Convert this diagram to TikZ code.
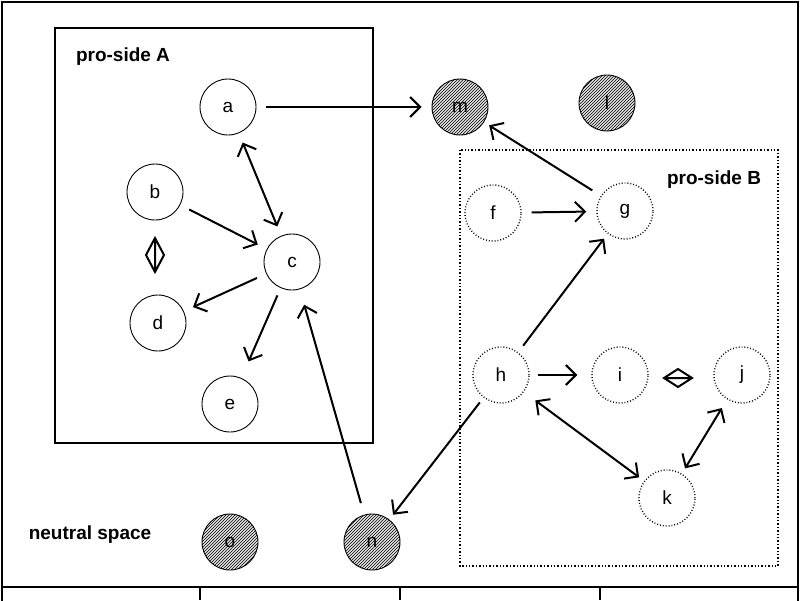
\documentclass[tikz,border=0pt]{standalone}
\usepackage{fontspec}
\setmainfont{Liberation Sans}
\usetikzlibrary{arrows.meta,patterns}
\begin{document}
\begin{tikzpicture}[x=1pt,y=-1pt,
  nd/.style={circle,draw,line width=0.9pt,minimum size=56pt,inner sep=0pt,font=\fontsize{19}{19}\selectfont},
  ndb/.style={nd,dotted,line width=1.4pt},
  hat/.style={nd,fill=gray!20,postaction={pattern=north east lines}},
  arr/.style={line width=2pt,-{Straight Barb[length=10pt,width=20pt,line width=2pt]},shorten >=10pt,shorten <=10pt},
  darr/.style={arr,{Straight Barb[length=10pt,width=20pt,line width=2pt]}-{Straight Barb[length=10pt,width=20pt,line width=2pt]}},
  lab/.style={font=\bfseries\fontsize{19}{19}\selectfont},
  sym/.style={line width=2pt}]
\useasboundingbox (0,0) rectangle (800,600);
\draw[line width=1.6pt] (2,2) rectangle (798,640);
\draw[line width=1.6pt] (2,587) -- (798,587);
\foreach \x in {200,400,600} \draw[line width=1.6pt] (\x,587) -- (\x,600);
\draw[line width=1.2pt] (55,28) rectangle (373,443);
\draw[dotted,line width=1.4pt] (460,150) rectangle (778,566);
\node[lab] (tA) at (123,57) {pro-side A};
\node[lab] (tB) at (714,180) {pro-side B};
\node[lab] (tN) at (90,535) {neutral space};
\node[nd] (a) at (228,107) {a};
\node[nd] (b) at (155,192) {b};
\node[nd] (c) at (292,262) {c};
\node[nd] (d) at (158,323) {d};
\node[nd] (e) at (230,404) {e};
\node[hat] (m) at (460,107) {m};
\node[hat] (l) at (607,103) {l};
\node[hat] (o) at (230,542) {o};
\node[hat] (n) at (372,542) {n};
\node[ndb] (f) at (493,213) {f};
\node[ndb] (g) at (625,211) {g};
\node[ndb] (h) at (501,375) {h};
\node[ndb] (i) at (620,375) {i};
\node[ndb] (j) at (742,375) {j};
\node[ndb] (k) at (667,498) {k};
\draw[arr] (a) -- (m);
\draw[darr] (a) -- (c);
\draw[arr] (b) -- (c);
\draw[arr] (c) -- (d);
\draw[arr,shorten <=8pt,shorten >=18pt] (c) -- (e);
\draw[arr] (f) -- (g);
\draw[arr,shorten >=6pt] (g) -- (m);
\draw[arr,shorten <=8pt,shorten >=6pt] (h) -- (g);
\draw[arr,shorten <=12pt,shorten >=16pt] (n) -- (c);
\draw[arr,shorten <=6pt,shorten >=6pt] (h) -- (n);
\draw[arr,shorten <=8pt,shorten >=14pt] (h) -- (i);
\draw[darr,shorten <=14pt,shorten >=6pt] (h) -- (k);
\draw[darr,shorten <=10pt,shorten >=6pt] (j) -- (k);
\draw[sym] (155,238) -- (146,255) -- (155,272) -- (164,255) -- cycle (155,238) -- (155,272);
\draw[sym] (664,378) -- (678,369) -- (692,378) -- (678,387) -- cycle (664,378) -- (692,378);
\end{tikzpicture}
\end{document}
